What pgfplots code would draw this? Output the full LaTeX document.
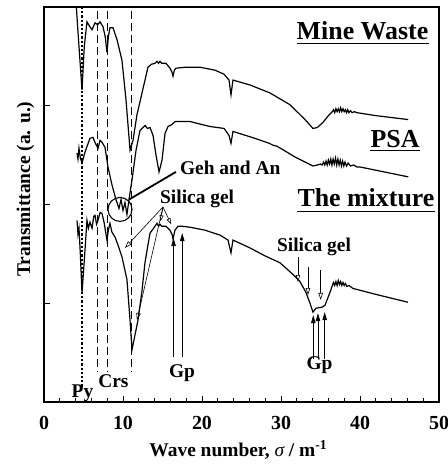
\documentclass[border=0pt]{standalone}
\usepackage{fontspec}
\setmainfont{Liberation Serif}
\usepackage{pgfplots}
\pgfplotsset{compat=1.18}
\usetikzlibrary{arrows.meta}
\begin{document}
\begin{tikzpicture}
\path[use as bounding box] (-44bp,-62bp) rectangle (404bp,402bp);
\begin{axis}[
  scale only axis, width=395bp, height=395bp,
  xmin=0, xmax=50, ymin=0, ymax=4,
  xtick={0,10,...,50}, minor xtick={2,4,...,48},
  ytick={1,2,3}, yticklabels={},
  tick align=inside, xtick pos=bottom, ytick pos=left,
  major tick length=6bp, minor tick length=4bp,
  axis line style={line width=1.1bp},
  every tick/.style={line width=0.9bp, black},
  /pgf/number format/assume math mode=true,
  ticklabel style={font=\fontsize{20}{23}\selectfont\bfseries},
  xticklabel style={anchor=center, yshift=-21bp},
  xlabel={Wave number, {\normalfont\itshape σ} / m\textsuperscript{-1}},
  ylabel={Transmittance (a. u.)},
  label style={font=\fontsize{19.5}{22}\selectfont\bfseries},
  xlabel style={at={(axis description cs:0.492,-0.139)}, anchor=base},
  ylabel style={at={(axis description cs:-0.047,0.539)}, anchor=center},
]
% reference lines
\addplot[black, line width=2.2bp, dotted] coordinates {(4.81,4) (4.81,0.15)};
\addplot[black, line width=0.8bp, dash pattern=on 8bp off 4bp] coordinates {(6.71,3.96) (6.71,0.30)};
\addplot[black, line width=0.8bp, dash pattern=on 8bp off 4bp] coordinates {(7.97,3.96) (7.97,0.30)};
\addplot[black, line width=0.8bp, dash pattern=on 8bp off 4bp] coordinates {(11.01,3.96) (11.01,0.30)};

% Mine Waste
\addplot[black, line width=1.2bp] coordinates {
(3.85,4.3) (4.3,3.75) (4.81,3.16) (5.1,3.6) (5.44,3.85) (5.8,3.80) (6.08,3.77) (6.46,3.84)
(6.8,3.82) (7.09,3.85) (7.47,3.80) (7.75,3.70) (7.97,3.54) (8.15,3.70) (8.35,3.79) (8.73,3.79)
(9.24,3.67) (9.87,3.46) (10.38,3.06) (10.89,2.55) (11.27,2.65) (11.77,2.91) (12.41,3.13)
(13.16,3.39) (13.6,3.42) (14.05,3.43) (14.3,3.45) (14.5,3.43) (14.68,3.45) (14.9,3.43) (15.44,3.43)
(15.95,3.38) (16.2,3.34) (16.33,3.30) (16.5,3.36) (16.71,3.38) (17.85,3.39) (19.75,3.39)
(21.65,3.36) (22.78,3.32) (23.42,3.26) (23.67,3.11) (23.92,3.26) (26.08,3.21) (28.6,3.13)
(31.14,3.01) (33.04,2.86) (34.05,2.77) (34.6,2.78) (35.3,2.83) (36.0,2.90) (36.5,2.94)
(36.65,2.96) (36.8,2.93) (36.95,2.97) (37.1,2.94) (37.25,2.97) (37.4,2.94) (37.55,2.98) (37.7,2.94)
(37.85,2.97) (38.0,2.94) (38.15,2.96) (38.3,2.93) (38.45,2.96) (38.6,2.93) (38.8,2.95) (39.0,2.93)
(39.3,2.94) (39.6,2.93) (42.0,2.90) (46.1,2.86)
};

% PSA
\addplot[black, line width=1.2bp] coordinates {
(4.18,2.52) (4.3,2.46) (4.43,2.57) (4.6,2.47) (4.81,2.42) (5.19,2.53) (5.5,2.60) (5.82,2.67)
(6.2,2.68) (6.5,2.62) (6.84,2.57) (7.1,2.65) (7.34,2.63) (7.72,2.58) (8.1,2.38) (8.6,2.20)
(9.11,2.05) (9.49,1.96) (9.75,2.05) (10.0,1.94) (10.25,2.02) (10.5,1.90) (10.76,2.05)
(11.14,2.25) (11.65,2.55) (12.15,2.75) (12.78,2.80) (13.1,2.77) (13.42,2.78) (13.8,2.70)
(14.18,2.50) (14.56,2.33) (14.94,2.45) (15.32,2.72) (15.7,2.79) (16.2,2.81) (16.6,2.84) (17.2,2.84)
(18.5,2.84) (21.0,2.79) (22.8,2.77) (23.42,2.70) (23.67,2.62) (23.92,2.74) (26.7,2.67)
(28.5,2.62) (29.0,2.60) (29.5,2.59) (31.8,2.48) (34.05,2.39) (34.6,2.40) (35.0,2.41) (35.2,2.40)
(35.4,2.43) (35.55,2.40) (35.7,2.44) (35.85,2.40) (36.0,2.45) (36.15,2.41) (36.3,2.46) (36.45,2.40)
(36.6,2.46) (36.75,2.41) (36.9,2.47) (37.05,2.40) (37.2,2.46) (37.35,2.40) (37.5,2.45) (37.65,2.39)
(37.8,2.44) (37.95,2.39) (38.1,2.43) (38.3,2.39) (38.5,2.42) (38.8,2.39) (39.2,2.40) (39.6,2.38)
(40.0,2.38) (46.1,2.28)
};

% The mixture
\addplot[black, line width=1.2bp] coordinates {
(4.18,1.84) (4.3,1.70) (4.43,1.76) (4.6,1.50) (4.81,1.10) (5.19,1.54) (5.44,1.84) (5.62,1.76)
(5.82,1.82) (6.08,1.76) (6.3,1.88) (6.46,1.89) (6.65,1.80) (6.84,1.84) (7.1,1.92) (7.34,1.91)
(7.6,1.82) (7.97,1.64) (8.15,1.74) (8.35,1.81) (8.6,1.72) (8.99,1.67) (9.37,1.59) (9.87,1.47)
(10.5,1.24) (10.89,0.83) (11.14,0.53) (11.52,0.68) (11.9,0.83) (12.41,1.13) (12.78,1.41)
(13.16,1.59) (13.42,1.71) (14.05,1.78) (14.3,1.81) (14.5,1.78) (14.68,1.80) (14.9,1.78) (15.44,1.78)
(15.95,1.74) (16.2,1.70) (16.33,1.65) (16.58,1.74) (16.96,1.78) (17.47,1.78) (18.48,1.77)
(20.38,1.74) (22.28,1.69) (23.29,1.64) (23.67,1.51) (23.92,1.64) (26.08,1.56) (27.97,1.48)
(29.87,1.41) (31.4,1.30) (32.4,1.22) (33.16,1.11) (33.67,1.00) (34.05,0.91) (34.43,0.95)
(35.19,0.96) (35.57,0.98) (36.2,1.11) (36.5,1.18) (36.65,1.21) (36.8,1.18) (36.95,1.22) (37.1,1.18)
(37.25,1.23) (37.4,1.19) (37.55,1.22) (37.7,1.18) (37.85,1.21) (38.0,1.18) (38.15,1.20) (38.35,1.17)
(38.6,1.18) (39.11,1.15) (42.0,1.09) (46.08,1.01)
};

% labels with underline
\node[anchor=base, inner sep=0pt, font=\fontsize{26}{30}\selectfont\bfseries] (mw) at (axis cs:40.32,3.666) {Mine Waste};
\draw[line width=1.6bp] ([yshift=-3.5bp]mw.base west) -- ([yshift=-3.5bp]mw.base east);
\node[anchor=base, inner sep=0pt, font=\fontsize{26}{30}\selectfont\bfseries] (psa) at (axis cs:44.43,2.582) {PSA};
\draw[line width=1.6bp] ([yshift=-3.5bp]psa.base west) -- ([yshift=-3.5bp]psa.base east);
\node[anchor=base, inner sep=0pt, font=\fontsize{26}{30}\selectfont\bfseries] (mix) at (axis cs:40.76,1.975) {The mixture};
\draw[line width=1.6bp] ([yshift=-4.5bp]mix.base west) -- ([yshift=-4.5bp]mix.base east);

% Geh and An
\draw[line width=1.1bp] (axis cs:9.62,1.95) circle[radius=12bp];
\draw[line width=1.8bp] (axis cs:10.76,2.05) -- (axis cs:16.7,2.33);
\node[anchor=base west, inner sep=0pt, font=\fontsize{19.5}{22}\selectfont\bfseries] at (axis cs:17.2,2.30) {Geh and An};

% Silica gel (left)
\node[anchor=base west, inner sep=0pt, font=\fontsize{19.5}{22}\selectfont\bfseries] at (axis cs:14.68,2.015) {Silica gel};
\draw[line width=0.6bp, -{Triangle[open,length=7bp,width=4.5bp]}] (axis cs:15.06,1.975) -- (axis cs:10.25,1.56);
\draw[line width=0.6bp, -{Triangle[open,length=7bp,width=4.5bp]}] (axis cs:15.06,1.975) -- (axis cs:11.77,0.83);
\draw[line width=0.6bp, -{Triangle[open,length=6bp,width=4bp]}] (axis cs:15.06,1.975) -- (axis cs:14.75,1.83);
\draw[line width=0.6bp, -{Triangle[open,length=6bp,width=4bp]}] (axis cs:15.06,1.975) -- (axis cs:16.1,1.80);

% Gp (left)
\draw[line width=0.7bp, -{Triangle[length=8bp,width=4.5bp]}] (axis cs:16.4,0.456) -- (axis cs:16.4,1.66);
\draw[line width=0.7bp, -{Triangle[length=8bp,width=4.5bp]}] (axis cs:17.5,0.456) -- (axis cs:17.5,1.71);
\node[anchor=base, inner sep=0pt, font=\fontsize{19.5}{22}\selectfont\bfseries] at (axis cs:17.47,0.253) {Gp};

% Silica gel (right)
\node[anchor=base, inner sep=0pt, font=\fontsize{19.5}{22}\selectfont\bfseries] at (axis cs:34.18,1.52) {Silica gel};
\draw[line width=0.6bp, -{Triangle[open,length=7bp,width=4.5bp]}] (axis cs:32.15,1.468) -- (axis cs:32.15,1.215);
\draw[line width=0.6bp, -{Triangle[open,length=7bp,width=4.5bp]}] (axis cs:33.42,1.367) -- (axis cs:33.42,1.083);
\draw[line width=0.6bp, -{Triangle[open,length=7bp,width=4.5bp]}] (axis cs:35.02,1.337) -- (axis cs:35.02,1.033);

% Gp (right)
\draw[line width=0.7bp, -{Triangle[length=8bp,width=4.5bp]}] (axis cs:34.09,0.435) -- (axis cs:34.09,0.88);
\draw[line width=0.7bp, -{Triangle[length=8bp,width=4.5bp]}] (axis cs:34.68,0.435) -- (axis cs:34.68,0.90);
\draw[line width=0.7bp, -{Triangle[length=8bp,width=4.5bp]}] (axis cs:35.53,0.435) -- (axis cs:35.53,0.91);
\node[anchor=base, inner sep=0pt, font=\fontsize{19.5}{22}\selectfont\bfseries] at (axis cs:34.87,0.334) {Gp};

% Py, Crs
\node[anchor=base, inner sep=0pt, font=\fontsize{19.5}{22}\selectfont\bfseries] at (axis cs:4.87,0.05) {Py};
\node[anchor=base, inner sep=0pt, font=\fontsize{19.5}{22}\selectfont\bfseries] at (axis cs:8.78,0.142) {Crs};
\end{axis}
\end{tikzpicture}
\end{document}
